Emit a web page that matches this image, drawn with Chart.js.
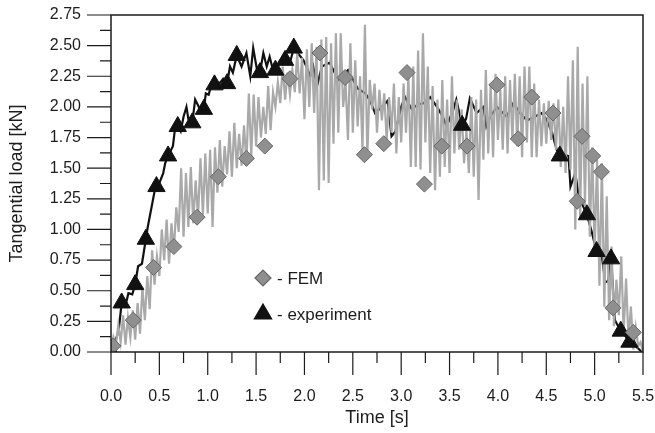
<!DOCTYPE html>
<html>
<head>
<meta charset="utf-8">
<script src="https://cdn.jsdelivr.net/npm/chart.js@4.4.0/dist/chart.umd.min.js"></script>
<style>
    html, body { margin: 0; padding: 0; background: #fff; }
    #wrap { width: 655px; height: 433px; }
</style>
</head>
<body>
<div id="wrap"><canvas id="load-chart" width="655" height="433"></canvas></div>
<script>
// Experiment: measured tangential load [kN] against time [s]
const expTime = [
    0.00, 0.05, 0.08, 0.11, 0.15, 0.18, 0.22, 0.25, 0.28, 0.32,
    0.36, 0.38, 0.46, 0.48, 0.54, 0.56, 0.59, 0.64, 0.66, 0.69,
    0.72, 0.75, 0.78, 0.80, 0.84, 0.87, 0.92, 0.96, 0.98, 1.01,
    1.04, 1.07, 1.09, 1.13, 1.16, 1.20, 1.23, 1.26, 1.30, 1.35,
    1.40, 1.44, 1.47, 1.51, 1.54, 1.575, 1.61, 1.64, 1.675, 1.70,
    1.75, 1.80, 1.85, 1.89, 1.93, 1.99, 2.02, 2.06, 2.09, 2.13,
    2.18, 2.26, 2.35, 2.45, 2.55, 2.63, 2.68, 2.73, 2.80, 2.86,
    2.90, 2.94, 3.00, 3.04, 3.11, 3.17, 3.23, 3.30, 3.37, 3.43,
    3.47, 3.54, 3.57, 3.63, 3.67, 3.71, 3.78, 3.85, 3.88, 3.92,
    3.99, 4.09, 4.16, 4.23, 4.30, 4.38, 4.45, 4.50, 4.56, 4.59,
    4.62, 4.66, 4.73, 4.75, 4.80, 4.83, 4.88, 4.92, 4.97, 5.02,
    5.07, 5.11, 5.14, 5.17, 5.21, 5.27, 5.31, 5.36, 5.42, 5.49
];
const expLoad = [
    0.00, 0.10, 0.18, 0.40, 0.38, 0.48, 0.47, 0.55, 0.70, 0.72,
    0.92, 1.02, 1.35, 1.34, 1.46, 1.54, 1.60, 1.68, 1.81, 1.84,
    1.80, 1.92, 2.00, 1.90, 1.87, 2.06, 1.98, 1.98, 2.11, 2.10,
    2.19, 2.18, 2.17, 2.20, 2.23, 2.19, 2.33, 2.28, 2.42, 2.33,
    2.44, 2.25, 2.48, 2.30, 2.28, 2.44, 2.33, 2.41, 2.30, 2.30,
    2.38, 2.41, 2.36, 2.48, 2.44, 2.38, 2.33, 2.25, 2.33, 2.17,
    2.33, 2.36, 2.22, 2.30, 2.15, 2.11, 2.05, 1.95, 2.00, 2.05,
    1.76, 1.80, 2.00, 2.08, 1.98, 2.02, 2.03, 2.08, 2.00, 1.92,
    1.84, 1.98, 2.06, 1.85, 1.90, 2.07, 1.95, 2.00, 1.84, 1.92,
    2.00, 1.92, 2.03, 1.95, 1.89, 1.92, 1.95, 1.90, 1.79, 1.70,
    1.62, 1.62, 1.60, 1.35, 1.46, 1.30, 1.19, 1.12, 0.98, 0.82,
    0.81, 0.57, 0.58, 0.76, 0.26, 0.17, 0.14, 0.08, 0.05, 0.00
];
// Experiment triangle markers
const expMarkTime = [0.00, 0.11, 0.25, 0.36, 0.47, 0.59, 0.69, 0.84, 0.96, 1.07, 1.20, 1.30,
    1.54, 1.70, 1.80, 1.89, 3.63, 4.64, 4.92, 5.02, 5.17, 5.27, 5.36];
const expMarkLoad = [0.00, 0.40, 0.55, 0.92, 1.35, 1.60, 1.84, 1.87, 1.98, 2.18, 2.19, 2.42,
    2.28, 2.30, 2.38, 2.48, 1.85, 1.60, 1.12, 0.82, 0.76, 0.17, 0.08];

// FEM: simulated load, one value every femStep seconds from t = 0
const femStep = 0.025;
const femLoad = [
    0.00, 0.12, 0.05, 0.22, 0.08, 0.30, 0.06, 0.28, 0.12, 0.34,
    0.10, 0.40, 0.15, 0.53, 0.26, 0.62, 0.35, 0.83, 0.55, 0.78,
    0.62, 1.00, 0.75, 1.08, 0.72, 1.05, 0.83, 1.18, 0.98, 1.50,
    0.94, 1.46, 1.02, 1.51, 1.05, 1.40, 1.10, 1.58, 1.12, 1.62,
    1.13, 1.65, 1.02, 1.67, 1.30, 1.73, 1.35, 1.68, 1.45, 1.80,
    1.43, 1.87, 1.50, 1.78, 1.52, 1.85, 1.54, 2.11, 1.60, 2.10,
    1.68, 2.08, 1.75, 2.00, 1.78, 2.17, 1.81, 2.12, 2.00, 2.20,
    2.03, 2.33, 2.06, 2.28, 2.10, 2.30, 2.12, 2.44, 2.11, 2.40,
    1.90, 2.47, 2.00, 2.52, 1.95, 2.49, 1.32, 2.55, 1.40, 2.57,
    1.38, 2.52, 1.70, 2.60, 1.79, 2.60, 2.00, 2.20, 1.73, 2.52,
    1.79, 2.38, 1.84, 2.25, 1.65, 2.67, 1.59, 2.22, 1.98, 2.19,
    1.79, 2.14, 1.89, 2.11, 1.73, 2.08, 1.79, 2.19, 1.62, 2.08,
    1.71, 2.19, 1.79, 2.25, 1.51, 2.33, 1.51, 2.46, 1.49, 2.60,
    1.71, 2.33, 1.46, 2.17, 1.32, 2.06, 1.43, 2.22, 1.51, 2.06,
    1.46, 2.25, 1.62, 2.06, 1.65, 1.98, 1.54, 1.81, 1.46, 2.08,
    1.43, 2.06, 1.24, 2.14, 1.57, 2.30, 1.62, 2.19, 1.59, 2.27,
    1.73, 2.14, 1.65, 2.25, 1.62, 2.22, 1.73, 2.27, 1.68, 2.25,
    1.59, 2.33, 1.71, 2.33, 1.59, 2.19, 1.59, 2.06, 1.68, 2.03,
    1.70, 2.05, 1.73, 2.03, 1.65, 2.06, 1.51, 2.00, 1.46, 2.25,
    1.49, 2.38, 1.00, 2.49, 1.08, 2.19, 1.19, 2.25, 0.94, 1.67,
    0.81, 1.57, 0.54, 1.54, 0.37, 1.27, 0.26, 0.86, 0.21, 0.59,
    0.30, 0.78, 0.16, 0.60, 0.10, 0.37, 0.02, 0.20, 0.05, 0.08,
    0.00
];
// FEM diamond markers
const femMarkTime = [0.02, 0.23, 0.44, 0.65, 0.89, 1.11, 1.40, 1.59, 1.85, 2.16, 2.42, 2.62,
    2.82, 3.06, 3.24, 3.42, 3.68, 3.99, 4.21, 4.35, 4.57, 4.82, 4.87, 4.98, 5.07, 5.19, 5.40];
const femMarkLoad = [0.05, 0.26, 0.69, 0.86, 1.10, 1.43, 1.58, 1.68, 2.23, 2.44, 2.24, 1.61,
    1.70, 2.28, 1.37, 1.68, 1.68, 2.18, 1.74, 2.08, 1.95, 1.23, 1.76, 1.60, 1.47, 0.36, 0.16];

// Axis ranges and tick spacing
const timeMax = 5.5;
const loadMax = 2.75;
const timeStep = 0.5;
const loadStep = 0.25;

const legendItems = [
    { label: '- FEM', style: 'rectRot' },
    { label: '- experiment', style: 'triangle' }
];

const FONT = "'Liberation Sans', Arial, Helvetica, sans-serif";
const INK = '#1c1c1c';
const FEM_LINE = '#a9a9a9';
const FEM_FILL = '#8f8f8f';
const FEM_EDGE = '#676767';

function toPoints(xs, ys) {
    return xs.map((x, i) => ({ x: x, y: ys[i] }));
}

const femPoints = femLoad.map((v, i) => ({ x: +(i * femStep).toFixed(3), y: v }));

// Frame, outward major/minor ticks and the in-plot legend
const axisFrame = {
    id: 'axisFrame',
    afterDatasetsDraw(chart) {
        const { ctx, chartArea: a, scales } = chart;
        const xs = scales.x, ys = scales.y;
        ctx.save();
        ctx.strokeStyle = INK;
        ctx.lineWidth = 1.5;
        ctx.strokeRect(a.left, a.top, a.right - a.left, a.bottom - a.top);

        ctx.lineWidth = 1.2;
        ctx.beginPath();
        ys.ticks.forEach((t, i) => {
            const py = ys.getPixelForValue(t.value);
            ctx.moveTo(a.left - 24, py);
            ctx.lineTo(a.left, py);
            const next = ys.ticks[i + 1];
            if (next) {
                const my = ys.getPixelForValue((t.value + next.value) / 2);
                ctx.moveTo(a.left - 11, my);
                ctx.lineTo(a.left, my);
            }
        });
        xs.ticks.forEach((t, i) => {
            const px = xs.getPixelForValue(t.value);
            ctx.moveTo(px, a.bottom);
            ctx.lineTo(px, a.bottom + 23);
            const next = xs.ticks[i + 1];
            if (next) {
                const mx = xs.getPixelForValue((t.value + next.value) / 2);
                ctx.moveTo(mx, a.bottom);
                ctx.lineTo(mx, a.bottom + 11);
            }
        });
        ctx.stroke();

        // legend
        const lx = a.left + 152;
        let ly = a.top + 263;
        ctx.font = '17px ' + FONT;
        ctx.textBaseline = 'middle';
        ctx.textAlign = 'left';
        legendItems.forEach(item => {
            if (item.style === 'rectRot') {
                ctx.fillStyle = FEM_FILL;
                ctx.strokeStyle = FEM_EDGE;
                Chart.helpers.drawPoint(ctx, { pointStyle: 'rectRot', radius: 8, borderWidth: 1 }, lx, ly);
            } else {
                ctx.fillStyle = '#111';
                ctx.strokeStyle = '#111';
                Chart.helpers.drawPoint(ctx, { pointStyle: 'triangle', radius: 10, borderWidth: 1 }, lx, ly);
            }
            ctx.fillStyle = INK;
            ctx.fillText(item.label, lx + 14, ly + 1);
            ly += 36;
        });
        ctx.restore();
    }
};

new Chart(document.getElementById('load-chart'), {
    type: 'scatter',
    data: {
        datasets: [
            {
                label: 'FEM markers',
                data: toPoints(femMarkTime, femMarkLoad),
                pointStyle: 'rectRot',
                pointRadius: 8,
                backgroundColor: FEM_FILL,
                borderColor: FEM_EDGE,
                borderWidth: 1,
                order: 1
            },
            {
                label: 'experiment markers',
                data: toPoints(expMarkTime, expMarkLoad),
                pointStyle: 'triangle',
                pointRadius: 10,
                backgroundColor: '#111',
                borderColor: '#111',
                borderWidth: 1,
                order: 2
            },
            {
                label: 'FEM',
                data: femPoints,
                showLine: true,
                borderColor: FEM_LINE,
                borderWidth: 2.2,
                pointRadius: 0,
                order: 3
            },
            {
                label: 'experiment',
                data: toPoints(expTime, expLoad),
                showLine: true,
                borderColor: '#111',
                borderWidth: 2.2,
                pointRadius: 0,
                order: 4
            }
        ]
    },
    options: {
        responsive: false,
        animation: false,
        layout: { padding: { left: 0, right: 12, top: 15, bottom: 0 } },
        plugins: {
            legend: { display: false },
            tooltip: { enabled: false }
        },
        scales: {
            x: {
                type: 'linear',
                min: 0,
                max: timeMax,
                grid: { display: false, drawTicks: false },
                border: { display: false },
                ticks: {
                    stepSize: timeStep,
                    padding: 35,
                    color: INK,
                    font: { family: FONT, size: 16 },
                    callback: v => v.toFixed(1)
                },
                title: {
                    display: true,
                    text: 'Time [s]',
                    color: INK,
                    font: { family: FONT, size: 18 },
                    padding: { top: 0, bottom: 4 }
                },
                afterFit: scale => {
                    scale.height = 81;
                    scale.paddingLeft = 0;
                    scale.paddingRight = 0;
                }
            },
            y: {
                type: 'linear',
                min: 0,
                max: loadMax,
                grid: { display: false, drawTicks: false },
                border: { display: false },
                ticks: {
                    stepSize: loadStep,
                    padding: 30,
                    color: INK,
                    font: { family: FONT, size: 16 },
                    callback: v => v.toFixed(2)
                },
                title: {
                    display: true,
                    text: 'Tangential load [kN]',
                    color: INK,
                    font: { family: FONT, size: 18 },
                    padding: { top: 6, bottom: 0 }
                },
                afterFit: scale => {
                    scale.width = 111;
                    scale.paddingTop = 0;
                    scale.paddingBottom = 0;
                }
            }
        }
    },
    plugins: [axisFrame]
});
</script>
</body>
</html>
